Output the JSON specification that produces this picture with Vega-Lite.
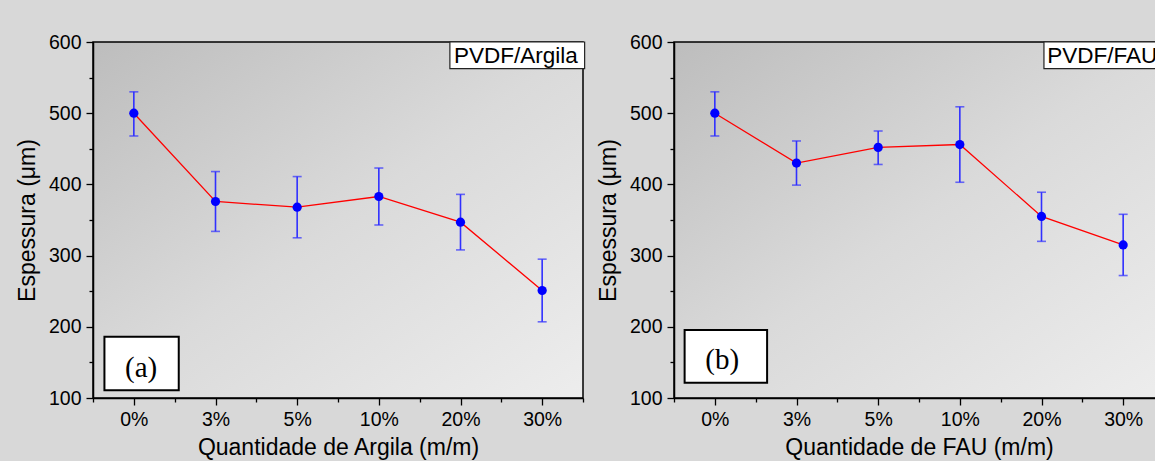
{
  "$schema": "https://vega.github.io/schema/vega-lite/v6.json",
  "background": "#d8d8d8",
  "padding": {"left": 15, "top": 31, "right": 0, "bottom": 0},
  "bounds": "flush",
  "spacing": 91,
  "datasets": {
    "argila": [
      {"i": 0, "q": "0%", "v": 500, "lo": 468, "hi": 530},
      {"i": 1, "q": "3%", "v": 376, "lo": 334, "hi": 418},
      {"i": 2, "q": "5%", "v": 368, "lo": 325, "hi": 411},
      {"i": 3, "q": "10%", "v": 383, "lo": 343, "hi": 423},
      {"i": 4, "q": "20%", "v": 347, "lo": 308, "hi": 386},
      {"i": 5, "q": "30%", "v": 251, "lo": 207, "hi": 295}
    ],
    "fau": [
      {"i": 0, "q": "0%", "v": 500, "lo": 468, "hi": 530},
      {"i": 1, "q": "3%", "v": 430, "lo": 399, "hi": 461},
      {"i": 2, "q": "5%", "v": 452, "lo": 428, "hi": 475},
      {"i": 3, "q": "10%", "v": 456, "lo": 403, "hi": 509},
      {"i": 4, "q": "20%", "v": 355, "lo": 320, "hi": 389},
      {"i": 5, "q": "30%", "v": 315, "lo": 272, "hi": 358}
    ],
    "tagA": [{"x1": 3.87, "x2": 5.52, "y1": 562.5, "y2": 600, "tx": 3.92, "ty": 580.5, "label": "PVDF/Argila"}],
    "panA": [{"x1": -0.36, "x2": 0.55, "y1": 111, "y2": 186, "tx": 0.09, "ty": 142, "label": "(a)"}],
    "tagB": [{"x1": 4.03, "x2": 5.6, "y1": 562.5, "y2": 600, "tx": 4.07, "ty": 580.5, "label": "PVDF/FAU"}],
    "panB": [{"x1": -0.37, "x2": 0.64, "y1": 121.5, "y2": 195.5, "tx": 0.09, "ty": 153, "label": "(b)"}]
  },
  "config": {
    "view": {
      "stroke": "black",
      "strokeWidth": 1.5,
      "fill": {"gradient": "linear", "x1": 0, "y1": 0, "x2": 1, "y2": 1,
        "stops": [{"offset": 0, "color": "#bdbdbd"}, {"offset": 0.5, "color": "#dadada"}, {"offset": 1, "color": "#ededed"}]}
    },
    "axis": {
      "grid": false,
      "labelFont": "Liberation Sans",
      "titleFont": "Liberation Sans",
      "labelFontSize": 19.5,
      "titleFontSize": 23,
      "labelColor": "black",
      "titleColor": "black",
      "titleFontWeight": "normal",
      "tickColor": "black",
      "domainColor": "black",
      "tickWidth": 1.3,
      "domainWidth": 1.5
    }
  },
  "hconcat": [
    {
      "width": 490,
      "height": 356,
      "resolve": {"axis": {"x": "independent", "y": "independent"}},
      "layer": [
        {
          "data": {"name": "argila"},
          "mark": {"type": "rule", "color": "#3030ff", "strokeWidth": 1.6},
          "encoding": {
            "x": {"field": "i", "type": "quantitative", "scale": {"domain": [-0.5, 5.5], "nice": false, "zero": false},
              "axis": {"orient": "bottom", "values": [0, 1, 2, 3, 4, 5], "labelExpr": "['0%','3%','5%','10%','20%','30%'][datum.value]", "title": "Quantidade de Argila (m/m)", "tickSize": 7, "labelPadding": 5, "titlePadding": 8, "labelFlush": false}},
            "y": {"field": "lo", "type": "quantitative", "scale": {"domain": [100, 600], "nice": false, "zero": false},
              "axis": {"orient": "left", "values": [100, 200, 300, 400, 500, 600], "title": "Espessura (μm)", "tickSize": 7, "labelPadding": 5, "titlePadding": 9, "labelFlush": false}},
            "y2": {"field": "hi"}
          }
        },
        {
          "data": {"name": "argila"},
          "mark": {"type": "tick", "orient": "horizontal", "size": 9, "thickness": 1.6, "color": "#3030ff"},
          "encoding": {
            "x": {"field": "i", "type": "quantitative", "axis": {"orient": "bottom", "values": [-0.5, 0.5, 1.5, 2.5, 3.5, 4.5, 5.5], "labels": false, "title": null, "tickSize": 4, "domain": false}},
            "y": {"field": "lo", "type": "quantitative", "axis": {"orient": "left", "values": [150, 250, 350, 450, 550], "labels": false, "title": null, "tickSize": 4, "domain": false}}
          }
        },
        {
          "data": {"name": "argila"},
          "mark": {"type": "tick", "orient": "horizontal", "size": 9, "thickness": 1.6, "color": "#3030ff"},
          "encoding": {
            "x": {"field": "i", "type": "quantitative", "axis": null},
            "y": {"field": "hi", "type": "quantitative", "axis": null}
          }
        },
        {
          "data": {"name": "argila"},
          "mark": {"type": "line", "color": "#ff0000", "strokeWidth": 1.3},
          "encoding": {
            "x": {"field": "i", "type": "quantitative", "axis": null},
            "y": {"field": "v", "type": "quantitative", "axis": null}
          }
        },
        {
          "data": {"name": "argila"},
          "mark": {"type": "point", "filled": true, "size": 85, "color": "#0000ff", "opacity": 1},
          "encoding": {
            "x": {"field": "i", "type": "quantitative", "axis": null},
            "y": {"field": "v", "type": "quantitative", "axis": null}
          }
        },
        {
          "data": {"name": "tagA"},
          "mark": {"type": "rect", "fill": "white", "stroke": "#222222", "strokeWidth": 1.2},
          "encoding": {
            "x": {"field": "x1", "type": "quantitative", "axis": null}, "x2": {"field": "x2"},
            "y": {"field": "y1", "type": "quantitative", "axis": null}, "y2": {"field": "y2"}
          }
        },
        {
          "data": {"name": "tagA"},
          "mark": {"type": "text", "align": "left", "baseline": "middle", "font": "Liberation Sans", "fontSize": 22.5, "color": "black"},
          "encoding": {
            "x": {"field": "tx", "type": "quantitative", "axis": null},
            "y": {"field": "ty", "type": "quantitative", "axis": null},
            "text": {"field": "label"}
          }
        },
        {
          "data": {"name": "panA"},
          "mark": {"type": "rect", "fill": "white", "stroke": "black", "strokeWidth": 2},
          "encoding": {
            "x": {"field": "x1", "type": "quantitative", "axis": null}, "x2": {"field": "x2"},
            "y": {"field": "y1", "type": "quantitative", "axis": null}, "y2": {"field": "y2"}
          }
        },
        {
          "data": {"name": "panA"},
          "mark": {"type": "text", "align": "center", "baseline": "middle", "font": "Liberation Serif", "fontSize": 29, "color": "black"},
          "encoding": {
            "x": {"field": "tx", "type": "quantitative", "axis": null},
            "y": {"field": "ty", "type": "quantitative", "axis": null},
            "text": {"field": "label"}
          }
        }
      ]
    },
    {
      "width": 490,
      "height": 356,
      "resolve": {"axis": {"x": "independent", "y": "independent"}},
      "layer": [
        {
          "data": {"name": "fau"},
          "mark": {"type": "rule", "color": "#3030ff", "strokeWidth": 1.6},
          "encoding": {
            "x": {"field": "i", "type": "quantitative", "scale": {"domain": [-0.5, 5.5], "nice": false, "zero": false},
              "axis": {"orient": "bottom", "values": [0, 1, 2, 3, 4, 5], "labelExpr": "['0%','3%','5%','10%','20%','30%'][datum.value]", "title": "Quantidade de FAU (m/m)", "tickSize": 7, "labelPadding": 5, "titlePadding": 8, "labelFlush": false}},
            "y": {"field": "lo", "type": "quantitative", "scale": {"domain": [100, 600], "nice": false, "zero": false},
              "axis": {"orient": "left", "values": [100, 200, 300, 400, 500, 600], "title": "Espessura (μm)", "tickSize": 7, "labelPadding": 5, "titlePadding": 9, "labelFlush": false}},
            "y2": {"field": "hi"}
          }
        },
        {
          "data": {"name": "fau"},
          "mark": {"type": "tick", "orient": "horizontal", "size": 9, "thickness": 1.6, "color": "#3030ff"},
          "encoding": {
            "x": {"field": "i", "type": "quantitative", "axis": {"orient": "bottom", "values": [-0.5, 0.5, 1.5, 2.5, 3.5, 4.5, 5.5], "labels": false, "title": null, "tickSize": 4, "domain": false}},
            "y": {"field": "lo", "type": "quantitative", "axis": {"orient": "left", "values": [150, 250, 350, 450, 550], "labels": false, "title": null, "tickSize": 4, "domain": false}}
          }
        },
        {
          "data": {"name": "fau"},
          "mark": {"type": "tick", "orient": "horizontal", "size": 9, "thickness": 1.6, "color": "#3030ff"},
          "encoding": {
            "x": {"field": "i", "type": "quantitative", "axis": null},
            "y": {"field": "hi", "type": "quantitative", "axis": null}
          }
        },
        {
          "data": {"name": "fau"},
          "mark": {"type": "line", "color": "#ff0000", "strokeWidth": 1.3},
          "encoding": {
            "x": {"field": "i", "type": "quantitative", "axis": null},
            "y": {"field": "v", "type": "quantitative", "axis": null}
          }
        },
        {
          "data": {"name": "fau"},
          "mark": {"type": "point", "filled": true, "size": 85, "color": "#0000ff", "opacity": 1},
          "encoding": {
            "x": {"field": "i", "type": "quantitative", "axis": null},
            "y": {"field": "v", "type": "quantitative", "axis": null}
          }
        },
        {
          "data": {"name": "tagB"},
          "mark": {"type": "rect", "fill": "white", "stroke": "#222222", "strokeWidth": 1.2},
          "encoding": {
            "x": {"field": "x1", "type": "quantitative", "axis": null}, "x2": {"field": "x2"},
            "y": {"field": "y1", "type": "quantitative", "axis": null}, "y2": {"field": "y2"}
          }
        },
        {
          "data": {"name": "tagB"},
          "mark": {"type": "text", "align": "left", "baseline": "middle", "font": "Liberation Sans", "fontSize": 22.5, "color": "black"},
          "encoding": {
            "x": {"field": "tx", "type": "quantitative", "axis": null},
            "y": {"field": "ty", "type": "quantitative", "axis": null},
            "text": {"field": "label"}
          }
        },
        {
          "data": {"name": "panB"},
          "mark": {"type": "rect", "fill": "white", "stroke": "black", "strokeWidth": 2},
          "encoding": {
            "x": {"field": "x1", "type": "quantitative", "axis": null}, "x2": {"field": "x2"},
            "y": {"field": "y1", "type": "quantitative", "axis": null}, "y2": {"field": "y2"}
          }
        },
        {
          "data": {"name": "panB"},
          "mark": {"type": "text", "align": "center", "baseline": "middle", "font": "Liberation Serif", "fontSize": 29, "color": "black"},
          "encoding": {
            "x": {"field": "tx", "type": "quantitative", "axis": null},
            "y": {"field": "ty", "type": "quantitative", "axis": null},
            "text": {"field": "label"}
          }
        }
      ]
    }
  ]
}
